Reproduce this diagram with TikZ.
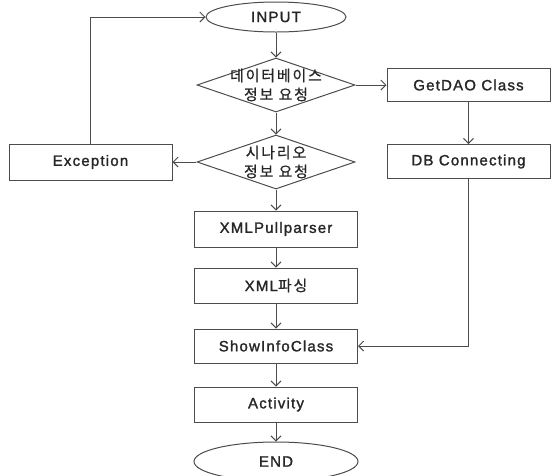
\documentclass[tikz,border=0pt]{standalone}
\usepackage{fontspec}
\setmainfont{Liberation Sans}[LetterSpace=8, FakeBold=1.5]
\newfontfamily\kor{Noto Sans CJK KR}[LetterSpace=12, FakeBold=0.8]
\usetikzlibrary{arrows.meta, positioning, shapes.geometric}

\begin{document}
\begin{tikzpicture}[
    x=1pt, y=1pt,
    line width=1pt,
    every node/.style={text=black!85, font=\fontsize{15}{19}\selectfont, inner sep=0pt},
    terminal/.style={ellipse, draw=black!70, minimum width=140pt, minimum height=30pt},
    process/.style={rectangle, draw=black!70, minimum width=163pt, minimum height=35pt},
    decision/.style={diamond, draw=black!70, minimum width=158pt, minimum height=54pt},
    question/.style={align=center, font=\fontsize{15}{19}\selectfont\kor},
    arrow/.style={-{Straight Barb[length=5pt, width=10pt]}, draw=black!70}
]
\useasboundingbox (0,0) rectangle (557,-475);

% main column
\node[terminal] (input) at (276,-17) {INPUT};
\node[decision, label={[question]center:{데이터베이스\\정보 요청}}] (dbinfo) [below=25pt of input] {};
\node[decision, label={[question]center:{시나리오\\정보 요청}}] (scinfo) [below=22pt of dbinfo] {};
\node[process, minimum height=36pt] (pull) [below=21pt of scinfo] {XMLPullparser};
\node[process] (parse) [below=20pt of pull] {XML{\kor 파싱}};
\node[process, minimum height=34pt] (show) [below=25pt of parse] {ShowInfoClass};
\node[process] (act) [below=23pt of show] {Activity};
\node[terminal, minimum width=164pt, minimum height=39pt] (end) [below=19pt of act] {END};

% side branches
\node[process, minimum height=33pt] (getdao) [right=31pt of dbinfo] {GetDAO Class};
\node[process, minimum height=34pt] (dbconn) [below=42pt of getdao] {DB Connecting};
\node[process, minimum height=36pt] (exc) [left=24pt of scinfo] {Exception};

\draw[arrow] (input) -- (dbinfo);
\draw[arrow] (dbinfo) -- (scinfo);
\draw[arrow] (dbinfo) -- (getdao);
\draw[arrow] (getdao) -- (dbconn);
\draw[arrow] (scinfo) -- (exc);
\draw[arrow] (exc.north) |- (input.west);
\draw[arrow] (scinfo) -- (pull);
\draw[arrow] (pull) -- (parse);
\draw[arrow] (parse) -- (show);
\draw[arrow] (dbconn.south) |- (show.east);
\draw[arrow] (show) -- (act);
\draw[arrow] (act) -- (end);
\end{tikzpicture}
\end{document}
